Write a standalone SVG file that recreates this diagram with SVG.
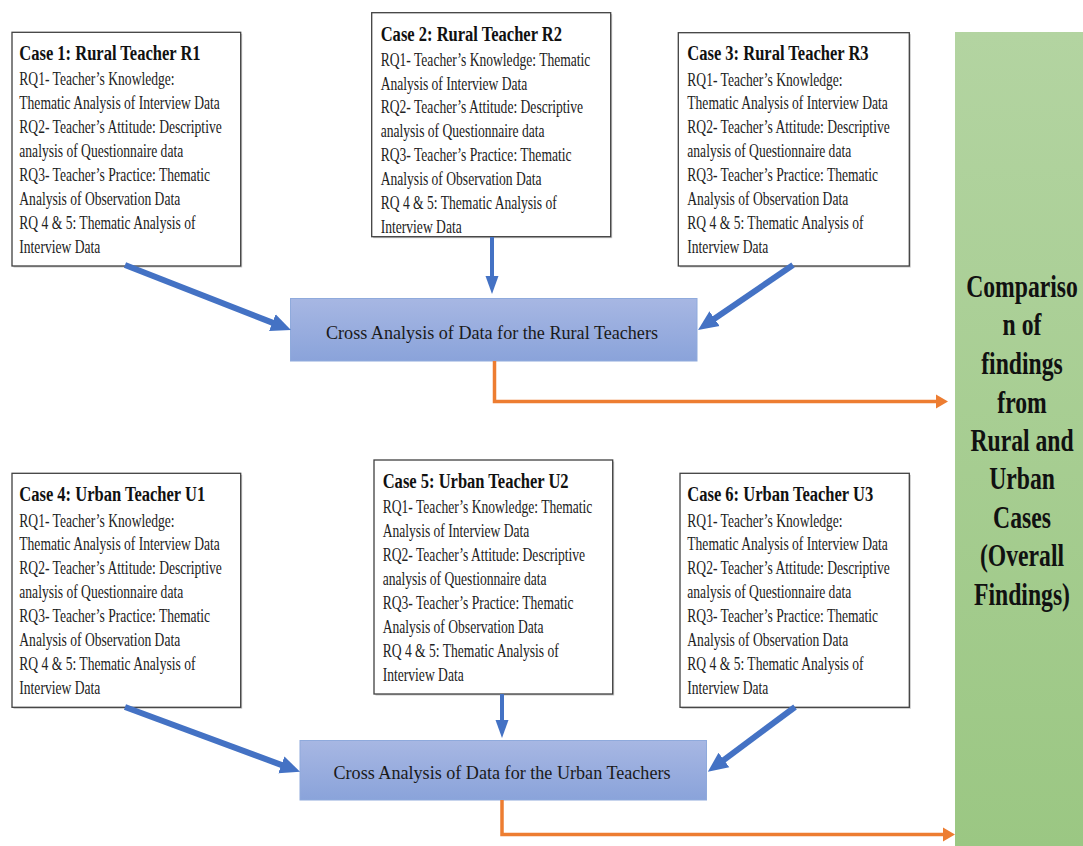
<svg xmlns="http://www.w3.org/2000/svg" width="1083" height="846" viewBox="0 0 1083 846">
<defs>
<linearGradient id="gCross" x1="0" y1="0" x2="0" y2="1"><stop offset="0" stop-color="#a7b7e3"/><stop offset="1" stop-color="#8aa3da"/></linearGradient>
<linearGradient id="gGreen" x1="0" y1="0" x2="0" y2="1"><stop offset="0" stop-color="#b3d4a1"/><stop offset="1" stop-color="#9bc783"/></linearGradient>
<marker id="hb" markerUnits="userSpaceOnUse" markerWidth="22" markerHeight="20" viewBox="0 -10 22 20" refX="2" refY="0" orient="auto"><path d="M0,-9 L20,0 L0,9 z" fill="#4472c4"/></marker>
<marker id="hbs" markerUnits="userSpaceOnUse" markerWidth="20" markerHeight="14" viewBox="0 -7 20 14" refX="2" refY="0" orient="auto"><path d="M0,-6.5 L18,0 L0,6.5 z" fill="#4472c4"/></marker>
<marker id="ho" markerUnits="userSpaceOnUse" markerWidth="14" markerHeight="16" viewBox="0 -8 14 16" refX="1" refY="0" orient="auto"><path d="M0,-7 L12,0 L0,7 z" fill="#ed7d31"/></marker>
</defs>
<style>
.case{fill:#ffffff;stroke:#404040;stroke-width:1.3}
.shadow{fill:#c8c8c8}
.hd{font-family:"Liberation Serif","Times New Roman",serif;font-weight:bold;font-size:21px;fill:#111}
.bd{font-family:"Liberation Serif","Times New Roman",serif;font-size:18px;fill:#222}
.cross{fill:url(#gCross);stroke:#8faadc;stroke-width:1}
.ct{font-family:"Liberation Serif","Times New Roman",serif;font-size:19.5px;fill:#1a1a1a;text-anchor:middle}
.gt{font-family:"Liberation Serif","Times New Roman",serif;font-weight:bold;font-size:32px;fill:#111;text-anchor:middle}
.ab{stroke:#4472c4;stroke-width:6;fill:none;marker-end:url(#hb)}
.abs{stroke:#4472c4;stroke-width:4;fill:none;marker-end:url(#hbs)}
.ao{stroke:#ed7d31;stroke-width:3.5;fill:none;marker-end:url(#ho)}
</style>
<rect width="1083" height="846" fill="#ffffff"/>

<g id="overall">
<rect x="955" y="32" width="130" height="816" fill="url(#gGreen)"/>
<g transform="translate(1022,0) scale(0.74,1)">
<text class="gt" x="0" y="297">Compariso</text>
<text class="gt" x="0" y="335.5">n of</text>
<text class="gt" x="0" y="374">findings</text>
<text class="gt" x="0" y="412.5">from</text>
<text class="gt" x="0" y="451">Rural and</text>
<text class="gt" x="0" y="489.5">Urban</text>
<text class="gt" x="0" y="528">Cases</text>
<text class="gt" x="0" y="566.5">(Overall</text>
<text class="gt" x="0" y="605">Findings)</text>
</g>
</g>

<g id="case1">
<rect class="shadow" x="13.5" y="33.8" width="228.7" height="233.7"/>
<rect class="case" x="12" y="32.3" width="228.7" height="233.7"/>
<text class="hd" transform="translate(19.3,60) scale(0.787,1)">Case 1: Rural Teacher R1</text>
<g transform="translate(19.3,0) scale(0.754,1)">
<text class="bd" x="0" y="85.3">RQ1- Teacher’s Knowledge:</text>
<text class="bd" x="0" y="109.2">Thematic Analysis of Interview Data</text>
<text class="bd" x="0" y="133.1">RQ2- Teacher’s Attitude: Descriptive</text>
<text class="bd" x="0" y="157">analysis of Questionnaire data</text>
<text class="bd" x="0" y="180.9">RQ3- Teacher’s Practice: Thematic</text>
<text class="bd" x="0" y="204.8">Analysis of Observation Data</text>
<text class="bd" x="0" y="228.7">RQ 4 &amp; 5: Thematic Analysis of</text>
<text class="bd" x="0" y="252.6">Interview Data</text>
</g>
</g>

<g id="case2">
<rect class="shadow" x="373.2" y="14.2" width="239" height="224"/>
<rect class="case" x="371.7" y="12.7" width="239" height="224"/>
<text class="hd" transform="translate(380.7,40.5) scale(0.787,1)">Case 2: Rural Teacher R2</text>
<g transform="translate(380.7,0) scale(0.754,1)">
<text class="bd" x="0" y="65.7">RQ1- Teacher’s Knowledge: Thematic</text>
<text class="bd" x="0" y="89.6">Analysis of Interview Data</text>
<text class="bd" x="0" y="113.5">RQ2- Teacher’s Attitude: Descriptive</text>
<text class="bd" x="0" y="137.4">analysis of Questionnaire data</text>
<text class="bd" x="0" y="161.3">RQ3- Teacher’s Practice: Thematic</text>
<text class="bd" x="0" y="185.2">Analysis of Observation Data</text>
<text class="bd" x="0" y="209.1">RQ 4 &amp; 5: Thematic Analysis of</text>
<text class="bd" x="0" y="233">Interview Data</text>
</g>
</g>

<g id="case3">
<rect class="shadow" x="679.8" y="34.2" width="231" height="233.3"/>
<rect class="case" x="678.3" y="32.7" width="231" height="233.3"/>
<text class="hd" transform="translate(687.3,60.4) scale(0.787,1)">Case 3: Rural Teacher R3</text>
<g transform="translate(687.3,0) scale(0.754,1)">
<text class="bd" x="0" y="85.6">RQ1- Teacher’s Knowledge:</text>
<text class="bd" x="0" y="109.5">Thematic Analysis of Interview Data</text>
<text class="bd" x="0" y="133.4">RQ2- Teacher’s Attitude: Descriptive</text>
<text class="bd" x="0" y="157.3">analysis of Questionnaire data</text>
<text class="bd" x="0" y="181.2">RQ3- Teacher’s Practice: Thematic</text>
<text class="bd" x="0" y="205.1">Analysis of Observation Data</text>
<text class="bd" x="0" y="229">RQ 4 &amp; 5: Thematic Analysis of</text>
<text class="bd" x="0" y="252.9">Interview Data</text>
</g>
</g>

<g id="case4">
<rect class="shadow" x="13.5" y="474.8" width="228.7" height="234"/>
<rect class="case" x="12" y="473.3" width="228.7" height="234"/>
<text class="hd" transform="translate(19.3,501.3) scale(0.787,1)">Case 4: Urban Teacher U1</text>
<g transform="translate(19.3,0) scale(0.754,1)">
<text class="bd" x="0" y="526.6">RQ1- Teacher’s Knowledge:</text>
<text class="bd" x="0" y="550.5">Thematic Analysis of Interview Data</text>
<text class="bd" x="0" y="574.4">RQ2- Teacher’s Attitude: Descriptive</text>
<text class="bd" x="0" y="598.3">analysis of Questionnaire data</text>
<text class="bd" x="0" y="622.2">RQ3- Teacher’s Practice: Thematic</text>
<text class="bd" x="0" y="646.1">Analysis of Observation Data</text>
<text class="bd" x="0" y="670">RQ 4 &amp; 5: Thematic Analysis of</text>
<text class="bd" x="0" y="693.9">Interview Data</text>
</g>
</g>

<g id="case5">
<rect class="shadow" x="375.5" y="461.5" width="238.7" height="234"/>
<rect class="case" x="374" y="460" width="238.7" height="234"/>
<text class="hd" transform="translate(382.7,488) scale(0.787,1)">Case 5: Urban Teacher U2</text>
<g transform="translate(382.7,0) scale(0.754,1)">
<text class="bd" x="0" y="513.3">RQ1- Teacher’s Knowledge: Thematic</text>
<text class="bd" x="0" y="537.2">Analysis of Interview Data</text>
<text class="bd" x="0" y="561.1">RQ2- Teacher’s Attitude: Descriptive</text>
<text class="bd" x="0" y="585">analysis of Questionnaire data</text>
<text class="bd" x="0" y="608.9">RQ3- Teacher’s Practice: Thematic</text>
<text class="bd" x="0" y="632.8">Analysis of Observation Data</text>
<text class="bd" x="0" y="656.7">RQ 4 &amp; 5: Thematic Analysis of</text>
<text class="bd" x="0" y="680.6">Interview Data</text>
</g>
</g>

<g id="case6">
<rect class="shadow" x="681.5" y="474.8" width="229.3" height="234"/>
<rect class="case" x="680" y="473.3" width="229.3" height="234"/>
<text class="hd" transform="translate(687.3,501.3) scale(0.787,1)">Case 6: Urban Teacher U3</text>
<g transform="translate(687.3,0) scale(0.754,1)">
<text class="bd" x="0" y="526.6">RQ1- Teacher’s Knowledge:</text>
<text class="bd" x="0" y="550.5">Thematic Analysis of Interview Data</text>
<text class="bd" x="0" y="574.4">RQ2- Teacher’s Attitude: Descriptive</text>
<text class="bd" x="0" y="598.3">analysis of Questionnaire data</text>
<text class="bd" x="0" y="622.2">RQ3- Teacher’s Practice: Thematic</text>
<text class="bd" x="0" y="646.1">Analysis of Observation Data</text>
<text class="bd" x="0" y="670">RQ 4 &amp; 5: Thematic Analysis of</text>
<text class="bd" x="0" y="693.9">Interview Data</text>
</g>
</g>

<g id="rural-cross">
<rect class="cross" x="290.5" y="298.5" width="406.5" height="62.5"/>
<text class="ct" transform="translate(492,338.5) scale(0.93,1)">Cross Analysis of Data for the Rural Teachers</text>
</g>

<g id="urban-cross">
<rect class="cross" x="300" y="740.5" width="406.5" height="59.5"/>
<text class="ct" transform="translate(502,779.3) scale(0.93,1)">Cross Analysis of Data for the Urban Teachers</text>
</g>

<g id="connectors">
<line class="ab" x1="125" y1="265" x2="274.2" y2="323.4"/>
<line class="abs" x1="492" y1="237" x2="492" y2="278"/>
<line class="ab" x1="793" y1="265" x2="712.9" y2="319.8"/>
<line class="ab" x1="125" y1="707" x2="283.2" y2="765.6"/>
<line class="abs" x1="502" y1="694" x2="502" y2="722"/>
<line class="ab" x1="795" y1="707" x2="722.3" y2="761.1"/>
<path class="ao" d="M494.5,361 V401.5 H937"/>
<path class="ao" d="M502,800 V834.5 H944"/>
</g>
</svg>
